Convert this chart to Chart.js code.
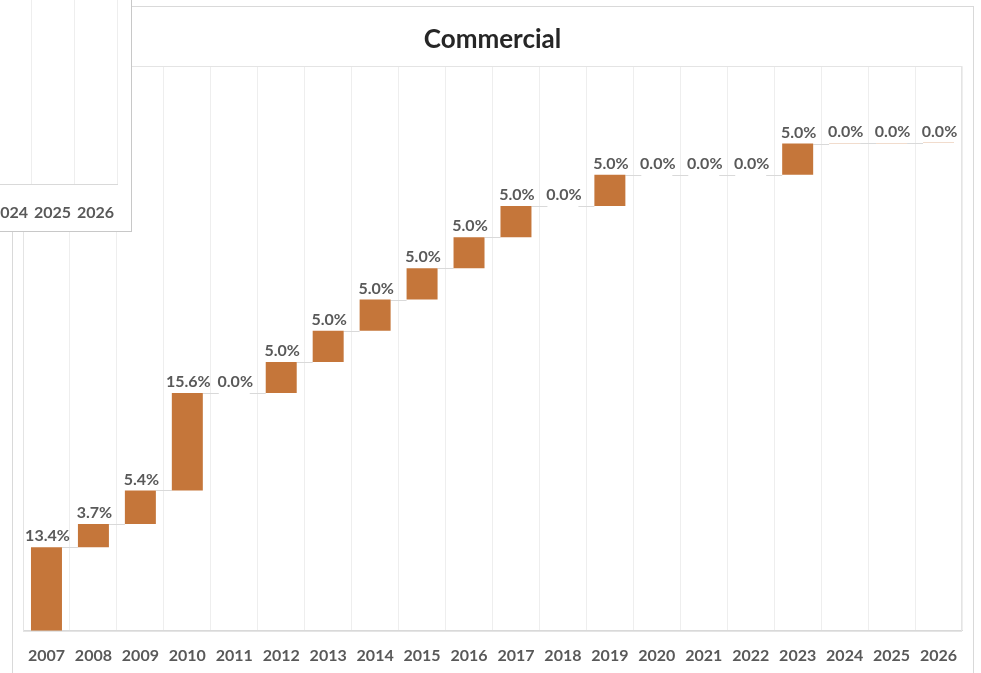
<!DOCTYPE html>
<html>
<head>
<meta charset="utf-8">
<script src="https://cdn.jsdelivr.net/npm/chart.js@4"></script>
<style>
  html, body { margin: 0; padding: 0; background: #fff; }
  body { width: 981px; height: 673px; position: relative; overflow: hidden; }
  #frame { position: absolute; left: 12px; top: 6px; width: 960px; height: 800px; border: 1px solid #d9d9d9; }
  #main { position: absolute; left: 0; top: 0; }
  #overlay { position: absolute; left: 0; top: 0; width: 131px; height: 231px; background: #fff;
             border-right: 1px solid #c8c8c8; border-bottom: 1px solid #c8c8c8; overflow: hidden; z-index: 2; }
  #side { position: absolute; left: -70px; top: 0; }
</style>
</head>
<body>
<div id="frame"></div>
<canvas id="main" width="981" height="688"></canvas>
<div id="overlay"><canvas id="side" width="202" height="242"></canvas></div>
<script>
const years = ['2007', '2008', '2009', '2010', '2011', '2012', '2013', '2014', '2015', '2016',
               '2017', '2018', '2019', '2020', '2021', '2022', '2023', '2024', '2025', '2026'];
const changes = [13.4, 3.7, 5.4, 15.6, 0.0, 5.0, 5.0, 5.0, 5.0, 5.0,
                 5.0, 0.0, 5.0, 0.0, 0.0, 0.0, 5.0, 0.04, 0.04, 0.04];
const sideYears = ['2023', '2024', '2025', '2026'];

// running totals for the waterfall
let total = 0;
const steps = changes.map(c => {
  const start = total;
  total += c;
  return [start, total];
});

const family = 'Lato, "Liberation Sans", sans-serif';
const labelFont = 'bold 16px ' + family;
const gray = '#595959';

const waterfallExtras = {
  id: 'waterfallExtras',
  beforeDatasetsDraw(chart) {
    const ctx = chart.ctx;
    const a = chart.chartArea;
    ctx.save();
    ctx.strokeStyle = '#e4e4e4';
    ctx.lineWidth = 1;
    ctx.strokeRect(Math.round(a.left) + 0.5, Math.round(a.top) + 0.5,
                   Math.round(a.right - a.left) - 1, Math.round(a.bottom - a.top));
    // connectors between bars
    const meta = chart.getDatasetMeta(0);
    const y = chart.scales.y;
    ctx.strokeStyle = '#d9d9d9';
    for (let i = 0; i < meta.data.length - 1; i++) {
      const bar = meta.data[i], next = meta.data[i + 1];
      const py = Math.round(y.getPixelForValue(steps[i][1])) + 0.5;
      ctx.beginPath();
      ctx.moveTo(bar.x + bar.width / 2, py);
      ctx.lineTo(next.x - next.width / 2, py);
      ctx.stroke();
    }
    ctx.restore();
  },
  afterDatasetsDraw(chart) {
    const ctx = chart.ctx;
    const meta = chart.getDatasetMeta(0);
    const y = chart.scales.y;
    ctx.save();
    ctx.font = labelFont;
    ctx.fillStyle = gray;
    ctx.textAlign = 'center';
    ctx.textBaseline = 'bottom';
    meta.data.forEach((bar, i) => {
      const top = y.getPixelForValue(Math.max(steps[i][0], steps[i][1]));
      ctx.fillText(changes[i].toFixed(1) + '%', bar.x + 1, top - 3);
    });
    ctx.restore();
  }
};

new Chart(document.getElementById('main').getContext('2d'), {
  type: 'bar',
  data: {
    labels: years,
    datasets: [{
      data: steps,
      backgroundColor: '#c5763a',
      borderWidth: 0,
      inflateAmount: ctx => changes[ctx.dataIndex] === 0 ? 0 : 'auto',
      categoryPercentage: 1,
      barPercentage: 0.66
    }]
  },
  options: {
    responsive: false,
    animation: false,
    layout: { padding: { left: 23, right: 19, top: 0, bottom: 8 } },
    plugins: {
      legend: { display: false },
      tooltip: { enabled: false },
      title: {
        display: true,
        text: 'Commercial',
        color: '#262626',
        font: { family: family, size: 26, weight: 'bold' },
        padding: { top: 24, bottom: 11 }
      }
    },
    scales: {
      x: {
        grid: { color: '#eeeeee', drawTicks: false, offset: true },
        border: { color: '#d9d9d9' },
        ticks: { color: gray, font: { family: family, size: 16, weight: 'bold' }, padding: 15 }
      },
      y: { display: false, min: 0, max: 90.5 }
    }
  },
  plugins: [waterfallExtras]
});

new Chart(document.getElementById('side').getContext('2d'), {
  type: 'bar',
  data: { labels: sideYears, datasets: [{ data: [] }] },
  options: {
    responsive: false,
    animation: false,
    layout: { padding: { left: 0, right: 14, top: 0, bottom: 2 } },
    plugins: { legend: { display: false }, tooltip: { enabled: false } },
    scales: {
      x: {
        grid: { color: '#eeeeee', drawTicks: false, offset: true },
        border: { color: '#d9d9d9' },
        ticks: { color: gray, font: { family: family, size: 16, weight: 'bold' }, padding: 18 }
      },
      y: { display: false, min: 0, max: 10 }
    }
  }
});
</script>
</body>
</html>
